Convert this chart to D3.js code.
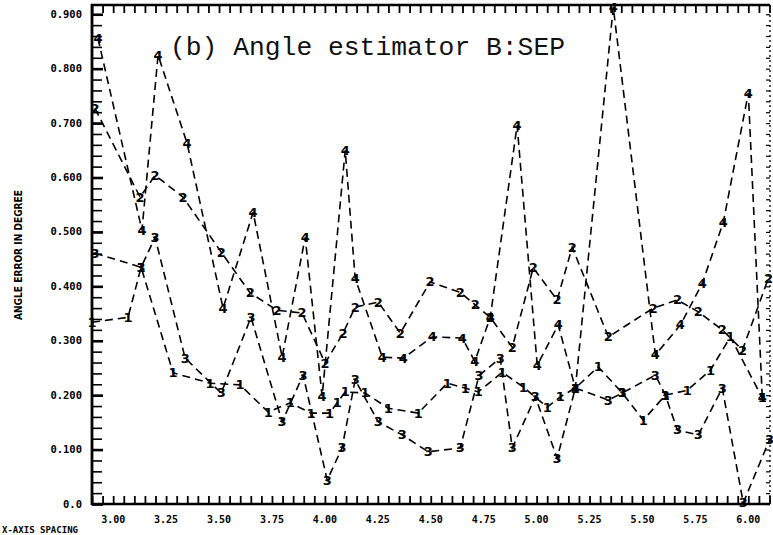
<!DOCTYPE html>
<html>
<head>
<meta charset="utf-8">
<script src="https://cdn.jsdelivr.net/npm/d3@7"></script>
<style>
  html, body { margin: 0; padding: 0; background: #fff; }
  svg { display: block; }
</style>
</head>
<body>
<svg id="chart" width="773" height="535"></svg>
<script>
// ---- data ----
const xTicks = [3.00, 3.25, 3.50, 3.75, 4.00, 4.25, 4.50, 4.75, 5.00, 5.25, 5.50, 5.75, 6.00];
const xTickLabels = ["3.00","3.25","3.50","3.75","4.00","4.25","4.50","4.75","5.00","5.25","5.50","5.75","6.00"];
const yTicks = [0.0, 0.1, 0.2, 0.3, 0.4, 0.5, 0.6, 0.7, 0.8, 0.9];
const yTickLabels = ["0.0","0.100","0.200","0.300","0.400","0.500","0.600","0.700","0.800","0.900"];

const s1x = [2.900,3.070,3.132,3.283,3.458,3.599,3.732,3.836,3.935,4.022,4.058,4.096,4.190,4.299,4.441,4.578,4.663,4.724,4.838,4.937,5.050,5.112,5.183,5.291,5.405,5.504,5.608,5.712,5.821,5.915,6.066];
const s1y = [0.334,0.343,0.435,0.241,0.222,0.219,0.169,0.186,0.167,0.167,0.186,0.206,0.204,0.176,0.167,0.222,0.213,0.206,0.242,0.215,0.178,0.197,0.213,0.252,0.204,0.154,0.200,0.209,0.246,0.307,0.195];

const s2x = [2.914,3.127,3.198,3.330,3.510,3.647,3.774,3.892,4.001,4.086,4.143,4.252,4.356,4.497,4.639,4.710,4.781,4.885,4.984,5.097,5.168,5.339,5.551,5.665,5.764,5.877,5.972,6.095];
const s2y = [0.727,0.564,0.604,0.564,0.463,0.388,0.356,0.351,0.259,0.314,0.362,0.371,0.314,0.408,0.389,0.366,0.343,0.288,0.434,0.375,0.472,0.307,0.360,0.375,0.353,0.320,0.283,0.415];

const s3x = [2.914,3.132,3.198,3.340,3.510,3.651,3.798,3.897,4.011,4.081,4.143,4.252,4.365,4.488,4.639,4.728,4.828,4.885,4.994,5.097,5.183,5.339,5.405,5.561,5.608,5.665,5.764,5.877,5.976,6.100];
const s3y = [0.461,0.435,0.490,0.268,0.204,0.343,0.151,0.237,0.044,0.103,0.228,0.151,0.127,0.096,0.103,0.236,0.268,0.103,0.197,0.084,0.213,0.191,0.204,0.237,0.200,0.136,0.127,0.213,0.002,0.118];

const s4x = [2.928,3.136,3.212,3.349,3.519,3.661,3.798,3.907,3.987,4.096,4.143,4.271,4.370,4.507,4.649,4.708,4.781,4.908,5.003,5.102,5.183,5.362,5.561,5.679,5.783,5.882,6.000,6.066];
const s4y = [0.856,0.503,0.825,0.663,0.360,0.536,0.270,0.490,0.198,0.650,0.415,0.270,0.268,0.307,0.305,0.262,0.343,0.696,0.255,0.329,0.213,0.913,0.274,0.329,0.406,0.518,0.755,0.195];

const seriesNames = ["1","2","3","4"];
const titleText = "(b) Angle estimator B:SEP";
const yTitle = "ANGLE ERROR IN DEGREE";
const footText = "X-AXIS  SPACING";

// ---- layout ----
const svg = d3.select("#chart");
const L = 92, R = 770, T = 5, B = 504;
const x = d3.scaleLinear().domain([2.9, 6.1]).range([L, R - 0.5]);
const y = d3.scaleLinear().domain([0, 0.917]).range([B, T]);

const series = [
  {name: seriesNames[0], xs: s1x, ys: s1y},
  {name: seriesNames[1], xs: s2x, ys: s2y},
  {name: seriesNames[2], xs: s3x, ys: s3y},
  {name: seriesNames[3], xs: s4x, ys: s4y}
].map(s => ({name: s.name, pts: s.xs.map((v, i) => [v, s.ys[i]])}));

const xMinor = d3.range(0, 65).map(i => 2.9 + i * 0.05).filter(v => v <= 6.1 + 1e-9);
const yMinor = d3.range(0, 46).map(i => i * 0.02).filter(v => v <= 0.917);

// bottom axis (ticks inside, upward)
const gB = svg.append("g").attr("transform", `translate(0,${B})`)
  .call(d3.axisBottom(x).tickValues(xMinor).tickSize(-8).tickFormat(""));
gB.select(".domain").remove();
gB.selectAll(".tick line").attr("stroke", "#000").attr("stroke-width", 1.8);

// top axis (ticks inside, downward)
const gT = svg.append("g").attr("transform", `translate(0,${T})`)
  .call(d3.axisTop(x).tickValues(xMinor).tickSize(-8).tickFormat(""));
gT.select(".domain").remove();
gT.selectAll(".tick line").attr("stroke", "#000").attr("stroke-width", 1.8);

// left axis ticks (inside, rightward)
const gL = svg.append("g").attr("transform", `translate(${L},0)`)
  .call(d3.axisLeft(y).tickValues(yMinor).tickSize(-10).tickFormat(""));
gL.select(".domain").remove();
gL.selectAll(".tick line").attr("stroke", "#000").attr("stroke-width", 1.6);
svg.append("g").attr("transform", `translate(${L},0)`)
  .call(d3.axisLeft(y).tickValues(yTicks).tickSize(-11).tickFormat(""))
  .call(g => g.select(".domain").remove())
  .selectAll(".tick line").attr("stroke", "#000").attr("stroke-width", 2.6);

// right axis: dotted with small ticks
const gR = svg.append("g").attr("transform", `translate(${R},0)`)
  .call(d3.axisRight(y).tickValues(yMinor).tickSize(-4).tickFormat(""));
gR.select(".domain").remove();
gR.selectAll(".tick line").attr("stroke", "#000").attr("stroke-width", 1.2);
svg.append("line").attr("x1", R).attr("x2", R).attr("y1", T).attr("y2", B)
  .attr("stroke", "#000").attr("stroke-width", 1.3).attr("stroke-dasharray", "2,3");

// frame lines
svg.append("line").attr("x1", L).attr("x2", L).attr("y1", T - 1).attr("y2", B + 1)
  .attr("stroke", "#000").attr("stroke-width", 2.8);
svg.append("line").attr("x1", L - 1).attr("x2", R).attr("y1", B).attr("y2", B)
  .attr("stroke", "#000").attr("stroke-width", 2.6);
svg.append("line").attr("x1", L - 1).attr("x2", R).attr("y1", T).attr("y2", T)
  .attr("stroke", "#000").attr("stroke-width", 2.6);

// tick labels
svg.append("g").selectAll("text").data(xTicks).join("text")
  .attr("x", d => x(d)).attr("y", 523)
  .attr("text-anchor", "middle")
  .attr("font-family", "DejaVu Sans Mono").attr("font-weight", "bold").attr("font-size", 10)
  .text((d, i) => xTickLabels[i]);

svg.append("g").selectAll("text").data(yTicks).join("text")
  .attr("x", 82).attr("y", d => y(d) + 3.5)
  .attr("text-anchor", "end")
  .attr("font-family", "DejaVu Sans Mono").attr("font-weight", "bold").attr("font-size", 10.5)
  .text((d, i) => yTickLabels[i]);

// y title
svg.append("text")
  .attr("transform", "translate(22,255) rotate(-90)")
  .attr("text-anchor", "middle")
  .attr("font-family", "DejaVu Sans Condensed, DejaVu Sans").attr("font-weight", "bold").attr("font-size", 11)
  .attr("textLength", 130).attr("lengthAdjust", "spacingAndGlyphs")
  .text(yTitle);

// footer
svg.append("text")
  .attr("x", 2).attr("y", 533)
  .attr("font-family", "DejaVu Sans Mono").attr("font-weight", "bold").attr("font-size", 8)
  .attr("textLength", 76).attr("lengthAdjust", "spacingAndGlyphs")
  .text(footText);

// title
svg.append("text")
  .attr("x", 170).attr("y", 55)
  .attr("font-family", "Liberation Mono, DejaVu Sans Mono, monospace").attr("font-size", 26)
  .attr("textLength", 395).attr("lengthAdjust", "spacingAndGlyphs")
  .attr("fill", "#111")
  .text(titleText);

// series lines
const line = d3.line().x(d => x(d[0])).y(d => y(d[1]));
const gS = svg.append("g");
series.forEach(s => {
  gS.append("path").attr("d", line(s.pts))
    .attr("fill", "none").attr("stroke", "#000")
    .attr("stroke-width", 1.6).attr("stroke-dasharray", "8,5");
});
// markers as digits
series.forEach(s => {
  gS.append("g").selectAll("text").data(s.pts).join("text")
    .attr("x", d => x(d[0])).attr("y", d => y(d[1]))
    .attr("text-anchor", "middle").attr("dominant-baseline", "central")
    .attr("font-family", "DejaVu Sans").attr("font-weight", "bold").attr("font-size", 13)
    .attr("fill", "#000")
    .text(s.name);
});
</script>
</body>
</html>
